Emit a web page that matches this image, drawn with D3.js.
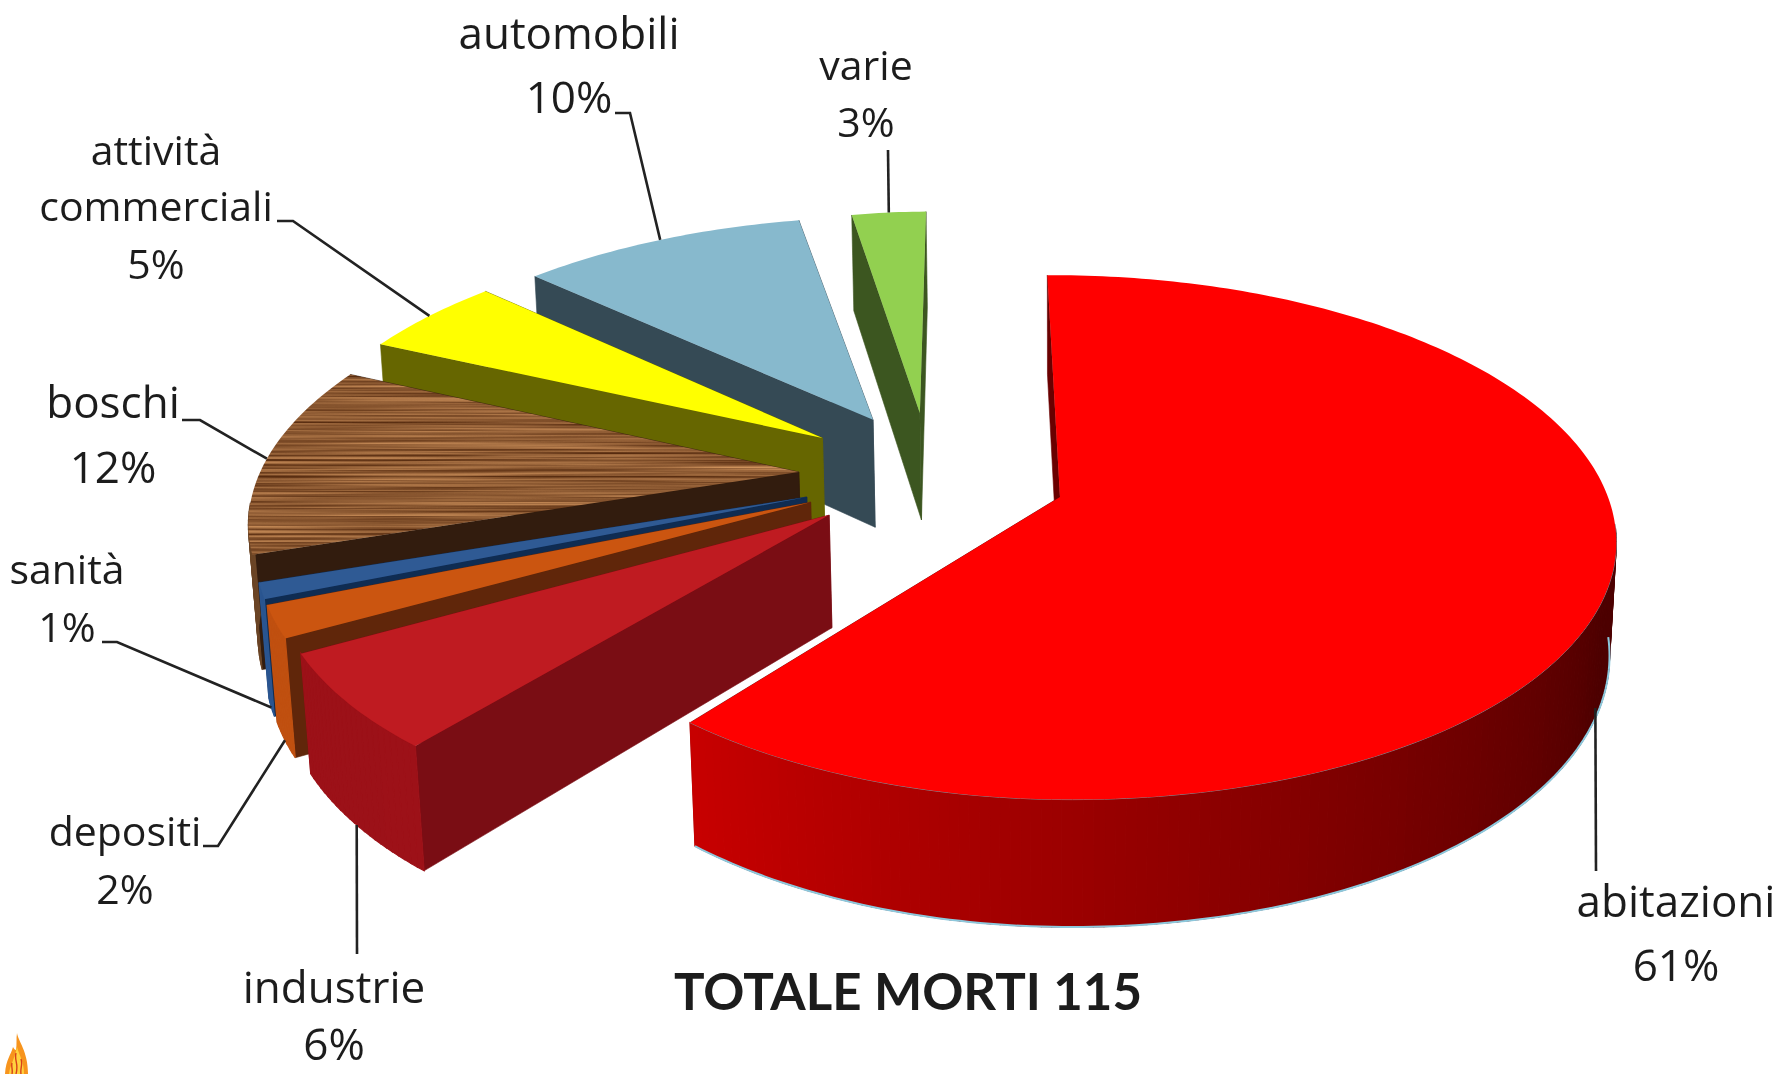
<!DOCTYPE html>
<html>
<head>
<meta charset="utf-8">
<script src="https://cdn.jsdelivr.net/npm/d3@7"></script>
<style>
    body { margin: 0; background: #fff; }
    text { font-family: "Open Sans", Lato, sans-serif; fill: #1c1c1c; text-anchor: middle; }
</style>
</head>
<body>
<div id="chart-area"></div>
<script>
// the values, as printed on the labels
const categories = ["abitazioni", "industrie", "depositi", "sanità", "boschi", "attività commerciali", "automobili", "varie"]
const percents = [61, 6, 2, 1, 12, 5, 10, 3]
const title = "TOTALE MORTI 115"

// colours of each slice
const topColors = ["#ff0000", "#bf1b21", "#cb5510", "#2f5a94", "url(#wood)", "#ffff00", "#87b9cd", "#92d050"]
const sideColors = ["#6a0000", "#7a0d14", "#60260a", "#0f2c52", "#321c0e", "#666600", "#354a55", "#3c5620"]
const outerFar = ["#c80000", "#9c1118", "#c05010", "#2a5590", "#6b4526", "#808000", "#5a8090", "#60802c"]
const outerNear = ["#4d0000", "#a01118", "#c05010", "#2a5590", "#6b4526", "#808000", "#5a8090", "#60802c"]

// how far each slice is pulled out of the pie, in pie radii (x, y on the table)
const shiftX = [0, -0.418, -0.454, -0.462, -0.482, -0.445, -0.352, -0.263]
const shiftY = [0, 0.07, 0.02, 0, -0.099, -0.239, -0.316, -0.346]
// the left side of the slices reaches a little less far than the right
const leftReach = [0.965, 0.984, 0.984, 0.985, 0.998, 1, 1, 0.87]

// label placement
const labelX = [1676, 334, 125, 67, 113, 156, 569, 866]
const labelY = [[902, 966], [988, 1045], [832, 890], [570, 628], [403, 468], [151, 207, 265], [34, 98], [66, 123]]
const labelSize = [44, 44, 41, 41, 44, 41, 44, 41]
const elbows = [[1596, 871], [357, 954], [203, 846, 218, 846], [102, 642, 117, 642], [182, 420, 200, 420], [277, 221, 293, 221], [615, 113, 630, 113], [888, 150]]
const leaderDepth = [0.9, 1, 1, 1, 0, 0, 0, 0]
const leaderTurn = [0.06, 0, 0, 0, 0, 0, 0, 0]

const WIDTH = 1785
const HEIGHT = 1074

// camera: pie seen from above with some perspective
const CX = 1060, CY = 497
const RX = 548, RY = 256, DEPTH = 113
const PERSP = 0.154, PERSP_Z = 0.012, SHEAR = 10
const ROTATION = -0.5 * Math.PI / 180

function project(x, y, z) {
    let w = 1 - PERSP * y + PERSP_Z * z
    return [CX + (RX * x + SHEAR * y) / w, CY + (RY * y + DEPTH * z) / w]
}

let svg = d3.select("#chart-area").append("svg")
    .attr("width", WIDTH)
    .attr("height", HEIGHT)
    .style("display", "block")

let defs = svg.append("defs")

// wood grain for boschi
let wood = defs.append("filter").attr("id", "grain")
    .attr("x", 0).attr("y", 0).attr("width", 1).attr("height", 1)
    .attr("color-interpolation-filters", "sRGB")
wood.append("feTurbulence")
    .attr("type", "fractalNoise")
    .attr("baseFrequency", "0.003 0.42")
    .attr("numOctaves", 3)
    .attr("seed", 7)
wood.append("feColorMatrix")
    .attr("type", "matrix")
    .attr("values", "0.7 0 0 0 0.2  0.6 0 0 0 0.05  0.45 0 0 0 -0.03  0 0 0 0 1")
defs.append("pattern").attr("id", "wood")
    .attr("patternUnits", "userSpaceOnUse")
    .attr("width", WIDTH).attr("height", HEIGHT)
    .append("rect")
    .attr("width", WIDTH).attr("height", HEIGHT)
    .attr("filter", "url(#grain)")

let soft = defs.append("filter").attr("id", "soft")
soft.append("feGaussianBlur").attr("stdDeviation", 0.55)

let pie = d3.pie().sort(null)
    .startAngle(ROTATION)
    .endAngle(2 * Math.PI + ROTATION)
let arcs = pie(percents)
let line = d3.line()

function rimPoint(i, angle, z) {
    let s = Math.sin(angle)
    return project(shiftX[i] + (s < 0 ? s * leftReach[i] : s), shiftY[i] - Math.cos(angle), z)
}

let chart = svg.append("g")

// back slices first, so the nearer ones paint over them
d3.range(arcs.length).reverse().forEach(i => {
    let a = arcs[i]
    let g = chart.append("g").attr("class", "slice")
    let apexTop = project(shiftX[i], shiftY[i], 0)
    let apexBottom = project(shiftX[i], shiftY[i], 1)
    let steps = Math.max(4, Math.round((a.endAngle - a.startAngle) * 60))
    let angles = d3.range(steps + 1).map(s => a.startAngle + (a.endAngle - a.startAngle) * s / steps)

    // flat walls of the cut
    ;[a.endAngle, a.startAngle].forEach(angle => {
        g.append("path")
            .attr("d", line([apexTop, rimPoint(i, angle, 0), rimPoint(i, angle, 1), apexBottom]) + "Z")
            .attr("fill", sideColors[i])
            .attr("stroke", sideColors[i])
            .attr("stroke-width", 0.6)
    })

    // curved outer wall, in strips so it can be shaded along the rim
    let shade = d3.scaleLinear()
        .domain([a.endAngle, Math.min(1.95, a.endAngle)])
        .range([outerFar[i], outerNear[i]])
        .clamp(true)
    for (let s = 0; s < steps; s++) {
        let mid = (angles[s] + angles[s + 1]) / 2
        if (-Math.cos(mid) < 0.12) continue
        g.append("path")
            .attr("d", line([rimPoint(i, angles[s], 0), rimPoint(i, angles[s + 1], 0),
                rimPoint(i, angles[s + 1], 1), rimPoint(i, angles[s], 1)]) + "Z")
            .attr("fill", shade(mid))
            .attr("stroke", shade(mid))
            .attr("stroke-width", 1.2)
    }
    if (i === 0) {
        // thin pale edge the original has along the big slice
        let visible = angles.filter(t => -Math.cos(t) > 0.1)
        g.append("path")
            .attr("d", line(visible.map(t => rimPoint(i, t, 1))))
            .attr("fill", "none").attr("stroke", "#8cc8dc").attr("stroke-width", 2)
        g.append("path")
            .attr("d", line(visible.map(t => rimPoint(i, t, 0))))
            .attr("fill", "none").attr("stroke", "#7f8f99").attr("stroke-width", 1)
    }

    // top face
    g.append("path")
        .attr("d", line([apexTop].concat(angles.map(t => rimPoint(i, t, 0)))) + "Z")
        .attr("fill", topColors[i])
})

// leader lines
let leaders = svg.append("g").attr("fill", "none").attr("stroke", "#222").attr("stroke-width", 2.6)
arcs.forEach((a, i) => {
    let e = elbows[i]
    let pts = []
    for (let k = 0; k < e.length; k += 2) pts.push([e[k], e[k + 1]])
    pts.push(rimPoint(i, (a.startAngle + a.endAngle) / 2 + leaderTurn[i], leaderDepth[i]))
    leaders.append("path").attr("d", line(pts))
})

// labels
let labels = svg.append("g").attr("filter", "url(#soft)")
categories.forEach((name, i) => {
    let lines = (name === "attività commerciali" ? name.split(" ") : [name]).concat([percents[i] + "%"])
    lines.forEach((txt, j) => {
        labels.append("text")
            .attr("x", labelX[i])
            .attr("y", labelY[i][j] + labelSize[i] * 0.34)
            .attr("font-size", labelSize[i])
            .text(txt)
    })
})
labels.append("text")
    .attr("x", 908)
    .attr("y", 1010)
    .style("font-family", "Lato")
    .attr("font-size", 51)
    .attr("font-weight", 700)
    .text(title)

// little flame in the corner
let flame = svg.append("g").attr("transform", "translate(5, 1033)")
flame.append("path").attr("fill", "#f7941d")
    .attr("d", "M12 0 C13 8 23 18 23 41 L0 41 C1 26 6 22 8 14 C9 16 10 17 11 17 C12 11 11 6 12 0Z")
flame.append("path").attr("fill", "#ffd23f")
    .attr("d", "M12 14 C14 22 19 28 19 41 L4 41 C5 32 9 28 12 14Z")
flame.append("path").attr("fill", "none").attr("stroke", "#d8401a").attr("stroke-width", 1.4)
    .attr("d", "M11 20 C9 28 14 30 11 41 M16 26 C18 32 15 35 16 41 M7 30 C6 34 8 36 7 41")
</script>
</body>
</html>
